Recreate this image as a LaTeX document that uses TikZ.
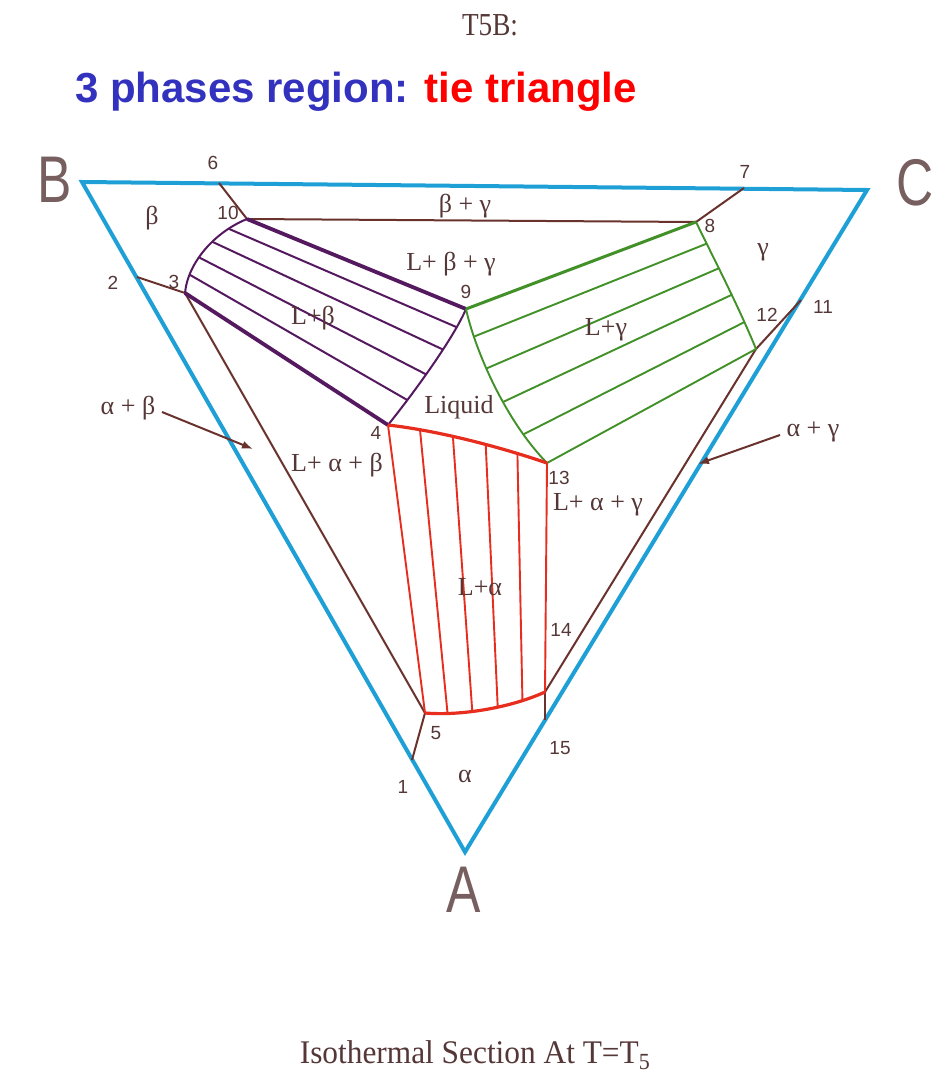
\documentclass[tikz,border=0pt]{standalone}
\usepackage{fontspec}
\setmainfont{Liberation Serif}
\newfontfamily\arialf{Liberation Sans}
\usetikzlibrary{arrows.meta}
\definecolor{edgeblue}{RGB}{30,160,215}
\definecolor{brn}{RGB}{105,50,45}
\definecolor{txt}{RGB}{85,55,55}
\definecolor{purp}{RGB}{85,25,95}
\definecolor{grn}{RGB}{65,145,40}
\definecolor{rd}{RGB}{230,45,30}
\definecolor{ttlblue}{RGB}{50,50,190}
\tikzset{
  outer/.style={draw=edgeblue,line width=4pt,line join=miter},
  bline/.style={draw=brn,line width=2pt},
  thickp/.style={draw=purp,line width=3.8pt},
  thinp/.style={draw=purp,line width=2pt},
  thickg/.style={draw=grn,line width=3pt},
  thing/.style={draw=grn,line width=1.9pt},
  thickr/.style={draw=rd,line width=3.2pt},
  thinr/.style={draw=rd,line width=1.9pt},
  lab/.style={text=txt,font=\fontsize{26}{26}\selectfont,inner sep=1pt},
  num/.style={text=txt,font=\arialf\fontsize{19}{19}\selectfont,inner sep=1pt},
  corner/.style={text=txt!80,font=\arialf\fontsize{66}{66}\selectfont,inner sep=0pt},
  arr/.style={draw=brn,line width=2pt,-{Latex[length=11pt,width=8pt]}}
}
\begin{document}
\begin{tikzpicture}[x=1pt,y=-1pt]
\useasboundingbox[fill=white] (0,0) rectangle (934,1086);
% vertices and points
\coordinate (B) at (82,182);
\coordinate (C) at (867,190);
\coordinate (A) at (465,852);
\coordinate (p1) at (412,760);
\coordinate (p2) at (137,277);
\coordinate (p3) at (185,293);
\coordinate (p4) at (388,425);
\coordinate (p5) at (425,713);
\coordinate (p6) at (219,183);
\coordinate (p7) at (744,188);
\coordinate (p8) at (696,222);
\coordinate (p9) at (466,309);
\coordinate (p10) at (247,219);
\coordinate (p11) at (801,300);
\coordinate (p12) at (756,349);
\coordinate (p13) at (547,463);
\coordinate (p14c) at (545,692);
\coordinate (p15) at (545,720);
% outer triangle
\draw[outer] (B) -- (C) -- (A) -- cycle;
% brown boundary lines
\draw[bline] (p6) -- (p10);
\draw[bline] (p7) -- (p8);
\draw[bline] (p10) -- (p8);
\draw[bline] (p2) -- (p3);
\draw[bline] (p3) -- (p5);
\draw[bline] (p5) -- (p1);
\draw[bline] (p12) -- (p11);
\draw[bline] (p12) -- (p14c);
\draw[bline] (p14c) -- (p15);
% L + beta region
\path (p3) .. controls (188,262) and (215,232) .. (p10)
  coordinate[pos=0.2] (ba1) coordinate[pos=0.4] (ba2)
  coordinate[pos=0.6] (ba3) coordinate[pos=0.8] (ba4);
\path (p9) .. controls (455,335) and (420,385) .. (p4)
  coordinate[pos=0.2] (bb1) coordinate[pos=0.4] (bb2)
  coordinate[pos=0.6] (bb3) coordinate[pos=0.8] (bb4);
\draw[thinp] (ba1) -- (bb4);
\draw[thinp] (ba2) -- (bb3);
\draw[thinp] (ba3) -- (bb2);
\draw[thinp] (ba4) -- (bb1);
\draw[thinp] (p3) .. controls (188,262) and (215,232) .. (p10);
\draw[thinp] (p9) .. controls (455,335) and (420,385) .. (p4);
\draw[thickp] (p10) -- (p9);
\draw[thickp] (p3) -- (p4);
% L + gamma region
\path (p9) .. controls (475,350) and (505,420) .. (p13)
  coordinate[pos=0.2] (ga1) coordinate[pos=0.4] (ga2)
  coordinate[pos=0.6] (ga3) coordinate[pos=0.8] (ga4);
\path (p8) .. controls (712,255) and (738,305) .. (p12)
  coordinate[pos=0.2] (gb1) coordinate[pos=0.4] (gb2)
  coordinate[pos=0.6] (gb3) coordinate[pos=0.8] (gb4);
\draw[thing] (ga1) -- (gb1);
\draw[thing] (ga2) -- (gb2);
\draw[thing] (ga3) -- (gb3);
\draw[thing] (ga4) -- (gb4);
\draw[thing] (p9) .. controls (475,350) and (505,420) .. (p13);
\draw[thing] (p8) .. controls (712,255) and (738,305) .. (p12);
\draw[thickg] (p9) -- (p8);
\draw[thing] (p13) -- (p12);
% L + alpha region
\path (p4) .. controls (440,431) and (500,447) .. (p13)
  coordinate[pos=0.2] (ra1) coordinate[pos=0.4] (ra2)
  coordinate[pos=0.6] (ra3) coordinate[pos=0.8] (ra4);
\path (p5) .. controls (460,716) and (510,708) .. (p14c)
  coordinate[pos=0.2] (rb1) coordinate[pos=0.4] (rb2)
  coordinate[pos=0.6] (rb3) coordinate[pos=0.8] (rb4);
\draw[thinr] (ra1) -- (rb1);
\draw[thinr] (ra2) -- (rb2);
\draw[thinr] (ra3) -- (rb3);
\draw[thinr] (ra4) -- (rb4);
\draw[thinr] (p4) -- (p5);
\draw[thinr] (p13) -- (p14c);
\draw[thickr] (p4) .. controls (440,431) and (500,447) .. (p13);
\draw[thickr] (p5) .. controls (460,716) and (510,708) .. (p14c);
% arrows
\node[lab] (lab) at (128,408) {α + β};
\coordinate (abs) at (162,412);
\coordinate (ab) at (253,449);
\draw[arr] (abs) -- (ab);
\node[lab] (lag) at (813,432) {α + γ};
\coordinate (ags) at (780,435);
\coordinate (ag) at (698,464);
\draw[arr] (ags) -- (ag);
% labels
\node[num] (n6) at (213,163) {6};
\node[num] (n7) at (745,172) {7};
\node[num] (n10) at (228,213) {10};
\node[num] (n8) at (710,226) {8};
\node[num] (n2) at (113,283) {2};
\node[num] (n3) at (174,282) {3};
\node[num] (n9) at (466,292) {9};
\node[num] (n12) at (767,315) {12};
\node[num] (n11) at (823,307) {11};
\node[num] (n4) at (376,433) {4};
\node[num] (n13) at (559,478) {13};
\node[num] (n14) at (561,630) {14};
\node[num] (n5) at (436,733) {5};
\node[num] (n15) at (560,748) {15};
\node[num] (n1) at (403,787) {1};
\node[lab] (lbg) at (465,206) {β + γ};
\node[lab] (lbeta) at (152,218) {β};
\node[lab] (lgam) at (763,252) {γ};
\node[lab] (llbg) at (451,264) {L+ β + γ};
\node[lab] (llb) at (313,318) {L+β};
\node[lab] (llg) at (606,330) {L+γ};
\node[lab] (lliq) at (459,407) {Liquid};
\node[lab] (llab) at (337,465) {L+ α + β};
\node[lab] (llag) at (598,505) {L+ α + γ};
\node[lab] (lla) at (480,587) {L+α};
\node[lab] (lalpha) at (465,776) {α};
\node[corner] (cB) at (55,180) {\scalebox{0.78}[1]{B}};
\node[corner] (cC) at (915,183) {\scalebox{0.78}[1]{C}};
\node[corner] (cA) at (464,890) {\scalebox{0.78}[1]{A}};
% titles
\node[text=txt,font=\fontsize{32}{32}\selectfont] (t5b) at (490,25) {\scalebox{0.85}[1]{T5B:}};
\node[anchor=west,font=\arialf\bfseries\fontsize{42}{42}\selectfont,inner sep=0pt] (title) at (75,92)
  {\textcolor{ttlblue}{3 phases region:} \textcolor{red}{tie triangle}};
\node[text=txt,font=\fontsize{33}{33}\selectfont] (cap) at (475,1055) {\scalebox{0.95}[1]{Isothermal Section At T=T\textsubscript{5}}};
\end{tikzpicture}
\end{document}
